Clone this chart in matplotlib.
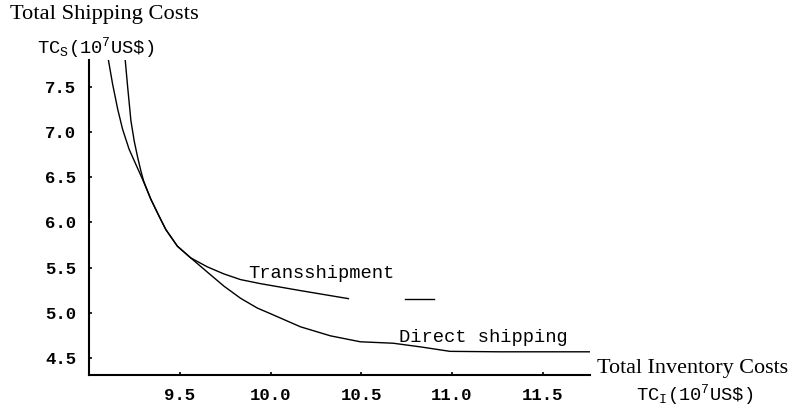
import matplotlib
matplotlib.use('Agg')
import matplotlib.pyplot as plt
import matplotlib.ticker as ticker

# curves (TC_I, TC_S) in 10^7 US$
tci_trans = [9.100, 9.106, 9.130, 9.158, 9.185, 9.221, 9.258, 9.295, 9.341, 9.386, 9.423, 9.487,
             9.560, 9.652, 9.743, 9.835, 9.945, 10.165, 10.429]
tcs_trans = [7.870, 7.811, 7.533, 7.256, 7.033, 6.811, 6.644, 6.478, 6.256, 6.070, 5.922, 5.737,
             5.608, 5.508, 5.430, 5.367, 5.322, 5.245, 5.156]
tci_trans_tail = [10.74, 10.90]
tcs_trans_tail = [5.156, 5.156]

tci_direct = [9.196, 9.199, 9.213, 9.231, 9.249, 9.268, 9.286, 9.301, 9.341, 9.386, 9.423, 9.487,
              9.560, 9.652, 9.743, 9.835, 9.927, 10.0, 10.165, 10.33, 10.495, 10.676, 10.824,
              10.989, 11.26, 11.758]
tcs_direct = [7.870, 7.811, 7.500, 7.126, 6.903, 6.722, 6.570, 6.459, 6.256, 6.070, 5.922, 5.737,
              5.608, 5.450, 5.295, 5.160, 5.052, 4.989, 4.844, 4.744, 4.678, 4.662, 4.622,
              4.572, 4.567, 4.567]

xtick_vals = [9.5, 10.0, 10.5, 11.0, 11.5]
ytick_vals = [4.5, 5.0, 5.5, 6.0, 6.5, 7.0, 7.5]

mono = 'Liberation Mono'
serif = 'Liberation Serif'
matplotlib.rcParams['mathtext.fontset'] = 'custom'
matplotlib.rcParams['mathtext.tt'] = mono
matplotlib.rcParams['mathtext.rm'] = mono

fig = plt.figure(figsize=(7.93, 4.09), dpi=100)
ax = fig.add_axes([89/793, 34/409, 501/793, 315/409])

ax.plot(tci_trans, tcs_trans, color='black', lw=1.0)
ax.plot(tci_trans_tail, tcs_trans_tail, color='black', lw=1.0)
ax.plot(tci_direct, tcs_direct, color='black', lw=1.0)

ax.set_xlim(9.0, 11.76)
ax.set_ylim(4.31, 7.80)

for s in ['top', 'right']:
    ax.spines[s].set_visible(False)
for s in ['left', 'bottom']:
    ax.spines[s].set_linewidth(1.5)

ax.xaxis.set_major_locator(ticker.FixedLocator(xtick_vals))
ax.yaxis.set_major_locator(ticker.FixedLocator(ytick_vals))
ax.xaxis.set_major_formatter(ticker.FormatStrFormatter('%.1f'))
ax.yaxis.set_major_formatter(ticker.FormatStrFormatter('%.1f'))
ax.tick_params(direction='in', length=2.5, width=1.2, labelsize=12.5, pad=9)
for lab in ax.get_xticklabels() + ax.get_yticklabels():
    lab.set_fontfamily(mono)
    lab.set_fontweight('bold')

ax.text(9.88, 5.43, 'Transshipment', family=mono, fontsize=13.5, va='center', ha='left')
ax.text(10.71, 4.72, 'Direct shipping', family=mono, fontsize=13.5, va='center', ha='left')

fig.text(10/793, 1 - 15/409, 'Total Shipping Costs', family=serif, fontsize=16.2, va='center', ha='left')
fig.text(37/793, 1 - 48/409, r'$\mathtt{TC_S(10^7US\$)}$', fontsize=13.5, va='center', ha='left')
fig.text(597/793, 1 - 368/409, 'Total Inventory Costs', family=serif, fontsize=15.9, va='center', ha='left')
fig.text(636/793, 1 - 395/409, r'$\mathtt{TC_I(10^7US\$)}$', fontsize=13.5, va='center', ha='left')

fig.savefig('out.png', dpi=100)
